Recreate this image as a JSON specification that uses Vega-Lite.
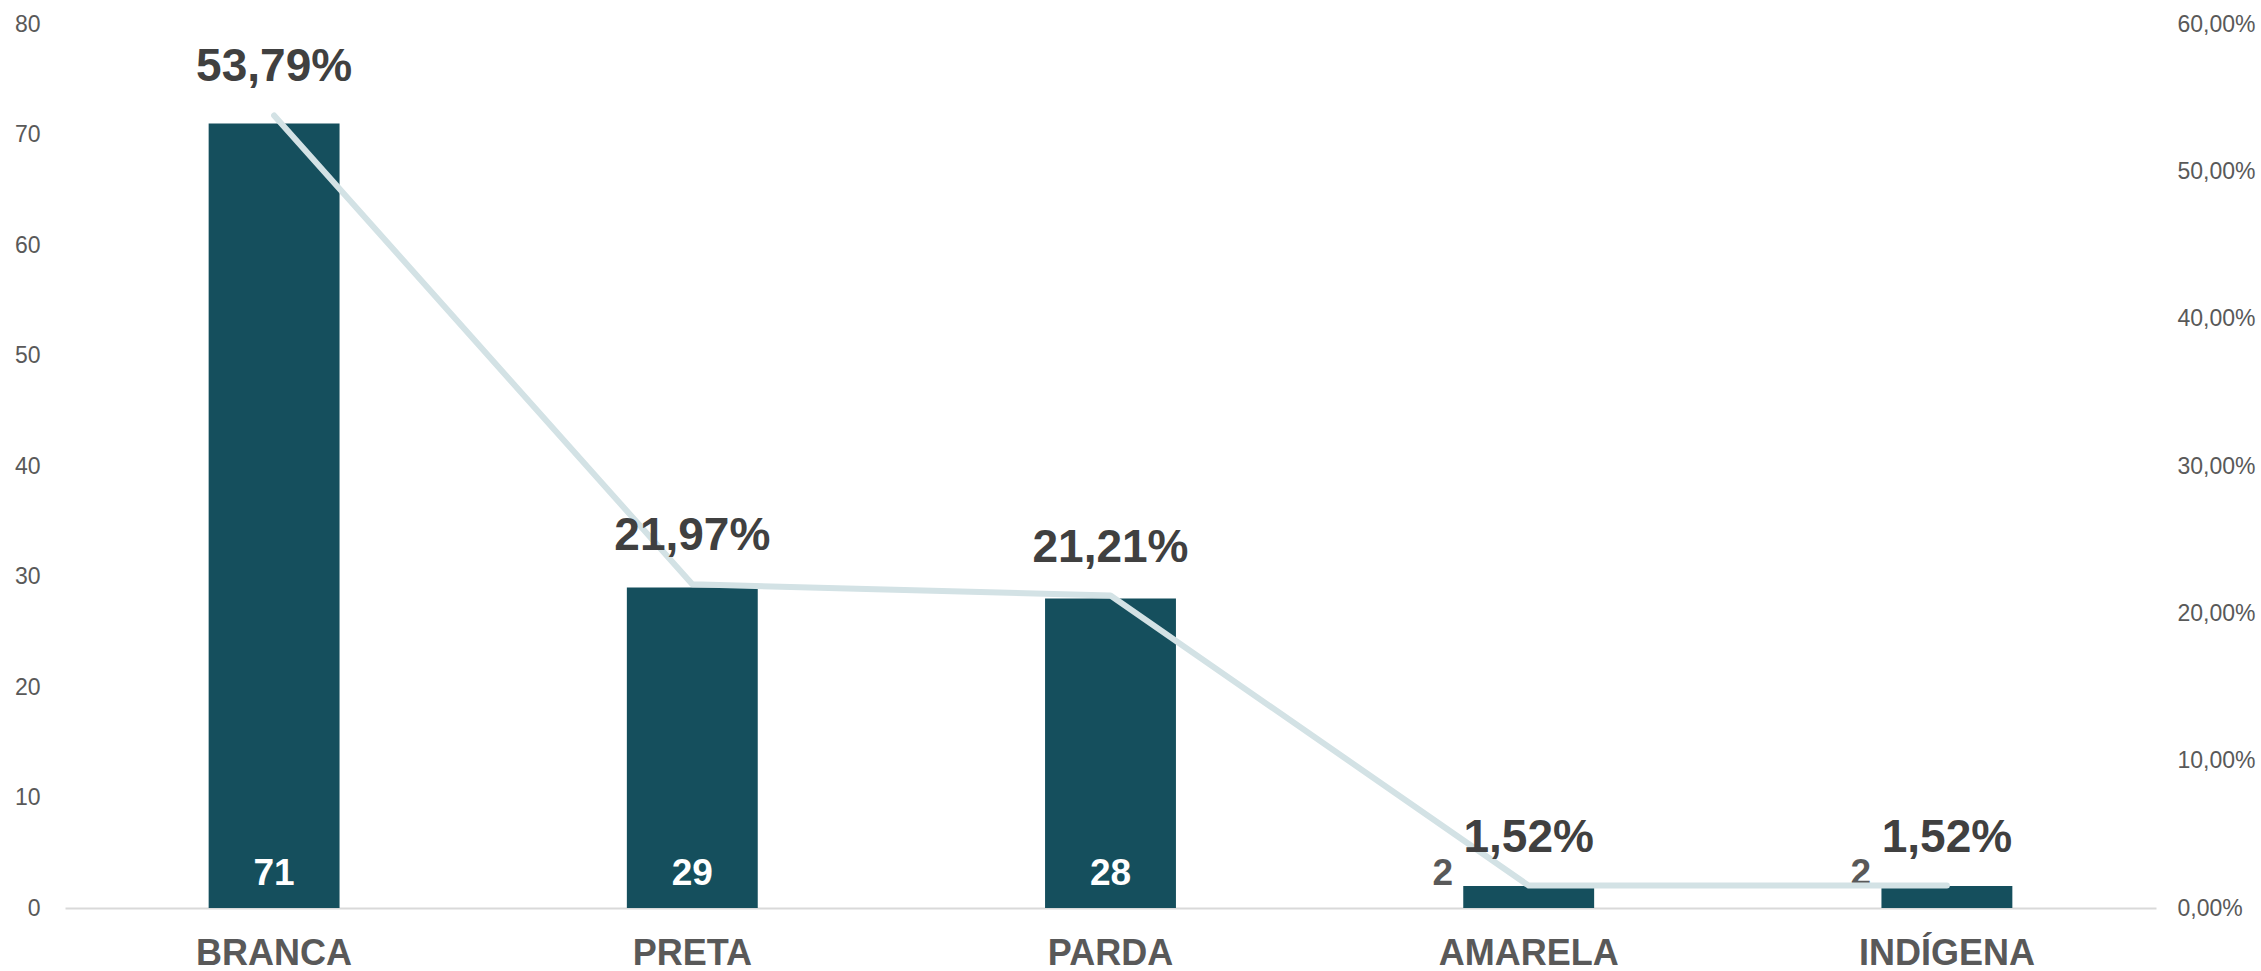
{
  "$schema": "https://vega.github.io/schema/vega-lite/v6.json",
  "width": 2091,
  "height": 884,
  "autosize": {"type": "none"},
  "padding": {"left": 65, "top": 24, "right": 105, "bottom": 63},
  "background": "white",
  "config": {
    "view": {"stroke": null},
    "locale": {"number": {"decimal": ",", "thousands": ".", "grouping": [3], "currency": ["R$", ""]}}
  },
  "data": {
    "values": [
      {"cat": "BRANCA", "count": 71, "pct": 0.5379},
      {"cat": "PRETA", "count": 29, "pct": 0.2197},
      {"cat": "PARDA", "count": 28, "pct": 0.2121},
      {"cat": "AMARELA", "count": 2, "pct": 0.0152},
      {"cat": "INDÍGENA", "count": 2, "pct": 0.0152}
    ]
  },
  "encoding": {
    "x": {
      "field": "cat", "type": "nominal", "sort": null,
      "scale": {"paddingInner": 0.687, "paddingOuter": 0.3435},
      "axis": {
        "title": null, "labelAngle": 0, "ticks": false, "grid": false,
        "domain": true, "domainColor": "#D9D9D9", "domainWidth": 2,
        "labelFont": "Liberation Sans", "labelFontWeight": "bold", "labelFontSize": 36,
        "labelColor": "#595959", "labelPadding": 28
      }
    }
  },
  "layer": [
    {
      "encoding": {
        "y": {
          "field": "count", "type": "quantitative",
          "scale": {"domain": [0, 80]},
          "axis": {
            "orient": "left", "title": null, "values": [0, 10, 20, 30, 40, 50, 60, 70, 80],
            "grid": false, "ticks": false, "domain": false,
            "labelFont": "Liberation Sans", "labelFontSize": 23, "labelColor": "#595959",
            "labelPadding": 25
          }
        }
      },
      "layer": [
        {"mark": {"type": "bar", "color": "#154F5D"}},
        {
          "transform": [{"filter": "datum.count >= 10"}],
          "mark": {"type": "text", "color": "#FFFFFF", "font": "Liberation Sans", "fontWeight": "bold", "fontSize": 37, "baseline": "middle", "dy": -34},
          "encoding": {"y": {"datum": 0}, "text": {"field": "count", "type": "quantitative"}}
        },
        {
          "transform": [{"filter": "datum.count < 10"}],
          "mark": {"type": "text", "color": "#595959", "font": "Liberation Sans", "fontWeight": "bold", "fontSize": 37, "baseline": "middle", "dy": -34, "dx": -86},
          "encoding": {"y": {"datum": 0}, "text": {"field": "count", "type": "quantitative"}}
        }
      ]
    },
    {
      "encoding": {
        "y": {
          "field": "pct", "type": "quantitative",
          "scale": {"domain": [0, 0.6]},
          "axis": {
            "orient": "right", "title": null, "values": [0, 0.1, 0.2, 0.3, 0.4, 0.5, 0.6],
            "format": ".2%",
            "grid": false, "ticks": false, "domain": false,
            "labelFont": "Liberation Sans", "labelFontSize": 23, "labelColor": "#595959",
            "labelPadding": 21
          }
        }
      },
      "layer": [
        {"mark": {"type": "line", "color": "#D3E2E5", "strokeWidth": 6, "strokeCap": "round", "strokeJoin": "round"}},
        {
          "mark": {"type": "text", "color": "#404040", "font": "Liberation Sans", "fontWeight": "bold", "fontSize": 46, "baseline": "middle", "dy": -48},
          "encoding": {"text": {"field": "pct", "type": "quantitative", "format": ".2%"}}
        }
      ]
    }
  ],
  "resolve": {"scale": {"y": "independent"}}
}
